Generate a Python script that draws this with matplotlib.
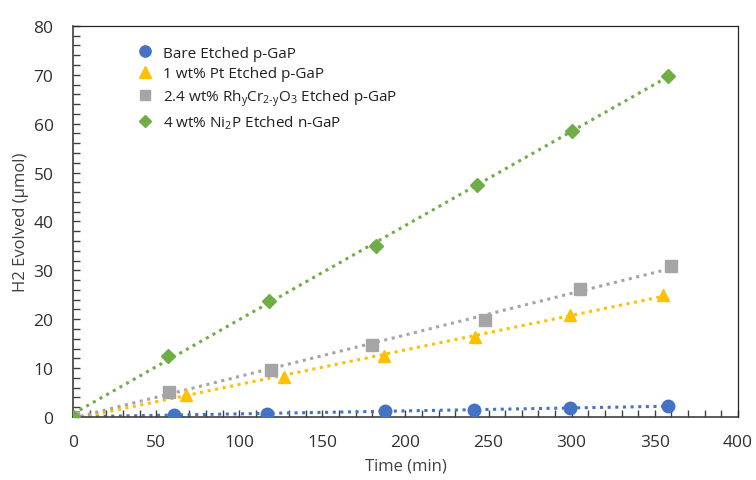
import matplotlib
matplotlib.use("Agg")
import matplotlib.pyplot as plt
import numpy as np
from matplotlib.ticker import MultipleLocator

# H2 evolution vs time for each photocathode
bare_t = [0, 61, 117, 188, 241, 299, 358]
bare_h2 = [0, 0.5, 0.6, 1.3, 1.5, 1.8, 2.2]

pt_t = [0, 68, 127, 187, 242, 299, 355]
pt_h2 = [0, 4.4, 8.2, 12.5, 16.4, 20.9, 25.0]

rhcr_t = [0, 58, 119, 180, 248, 305, 360]
rhcr_h2 = [0, 5.2, 9.6, 14.7, 19.9, 26.2, 30.9]

ni2p_t = [0, 57, 118, 182, 243, 300, 358]
ni2p_h2 = [0, 12.5, 23.8, 35.0, 47.4, 58.5, 69.7]

labels = [
    "Bare Etched p-GaP",
    "1 wt% Pt Etched p-GaP",
    r"2.4 wt% Rh$_{\mathrm{y}}$Cr$_{\mathrm{2\text{-}y}}$O$_{\mathrm{3}}$ Etched p-GaP",
    r"4 wt% Ni$_{\mathrm{2}}$P Etched n-GaP",
]

plt.rcParams["font.family"] = ["Open Sans", "DejaVu Sans"]
plt.rcParams["mathtext.fontset"] = "custom"
plt.rcParams["mathtext.rm"] = "Open Sans"
plt.rcParams["mathtext.it"] = "Open Sans"

fig = plt.figure(figsize=(7.56, 4.81), dpi=100)
ax = fig.add_axes([0.0966, 0.131, 0.8794, 0.813])

series = [
    (bare_t, bare_h2, "#4472C4", "o", 9),
    (pt_t, pt_h2, "#FFC000", "^", 9),
    (rhcr_t, rhcr_h2, "#A5A5A5", "s", 8),
    (ni2p_t, ni2p_h2, "#70AD47", "D", 7),
]

handles = []
for (t, h2, color, marker, ms), label in zip(series, labels):
    t = np.asarray(t, dtype=float)
    h2 = np.asarray(h2, dtype=float)
    # linear trendline across the measured range
    slope, icpt = np.polyfit(t, h2, 1)
    tt = np.array([t.min(), t.max()])
    ax.plot(tt, slope * tt + icpt, linestyle=(0, (1, 1.5)), color=color, lw=2.2, zorder=2)
    h, = ax.plot(t, h2, linestyle="none", marker=marker, markersize=ms,
                 color=color, markeredgecolor=color, zorder=3, label=label)
    handles.append(h)

ax.set_xlim(0, 400)
ax.set_ylim(0, 80)
ax.xaxis.set_major_locator(MultipleLocator(50))
ax.xaxis.set_minor_locator(MultipleLocator(10))
ax.yaxis.set_major_locator(MultipleLocator(10))
ax.yaxis.set_minor_locator(MultipleLocator(2))
ax.tick_params(which="both", direction="in", length=5, width=1, colors="#404040",
               labelsize=12.5, labelcolor="#303030")
ax.tick_params(axis="x", pad=12)
ax.tick_params(axis="y", pad=14)

for side in ("top", "right"):
    ax.spines[side].set_color("#262626")
    ax.spines[side].set_linewidth(0.9)
for side in ("left", "bottom"):
    ax.spines[side].set_color("#404040")
    ax.spines[side].set_linewidth(1.2)

ax.set_xlabel("Time (min)", fontsize=12, color="#404040", labelpad=6)
ax.set_ylabel("H2 Evolved (µmol)", fontsize=12, color="#404040", labelpad=3)

leg = ax.legend(handles=handles, loc="upper left", bbox_to_anchor=(0.078, 0.985),
                frameon=False, fontsize=11, handlelength=0.8, handletextpad=0.8,
                labelspacing=0.38, markerscale=0.9)
for txt in leg.get_texts():
    txt.set_color("#202020")

fig.savefig("out.png", dpi=100)
